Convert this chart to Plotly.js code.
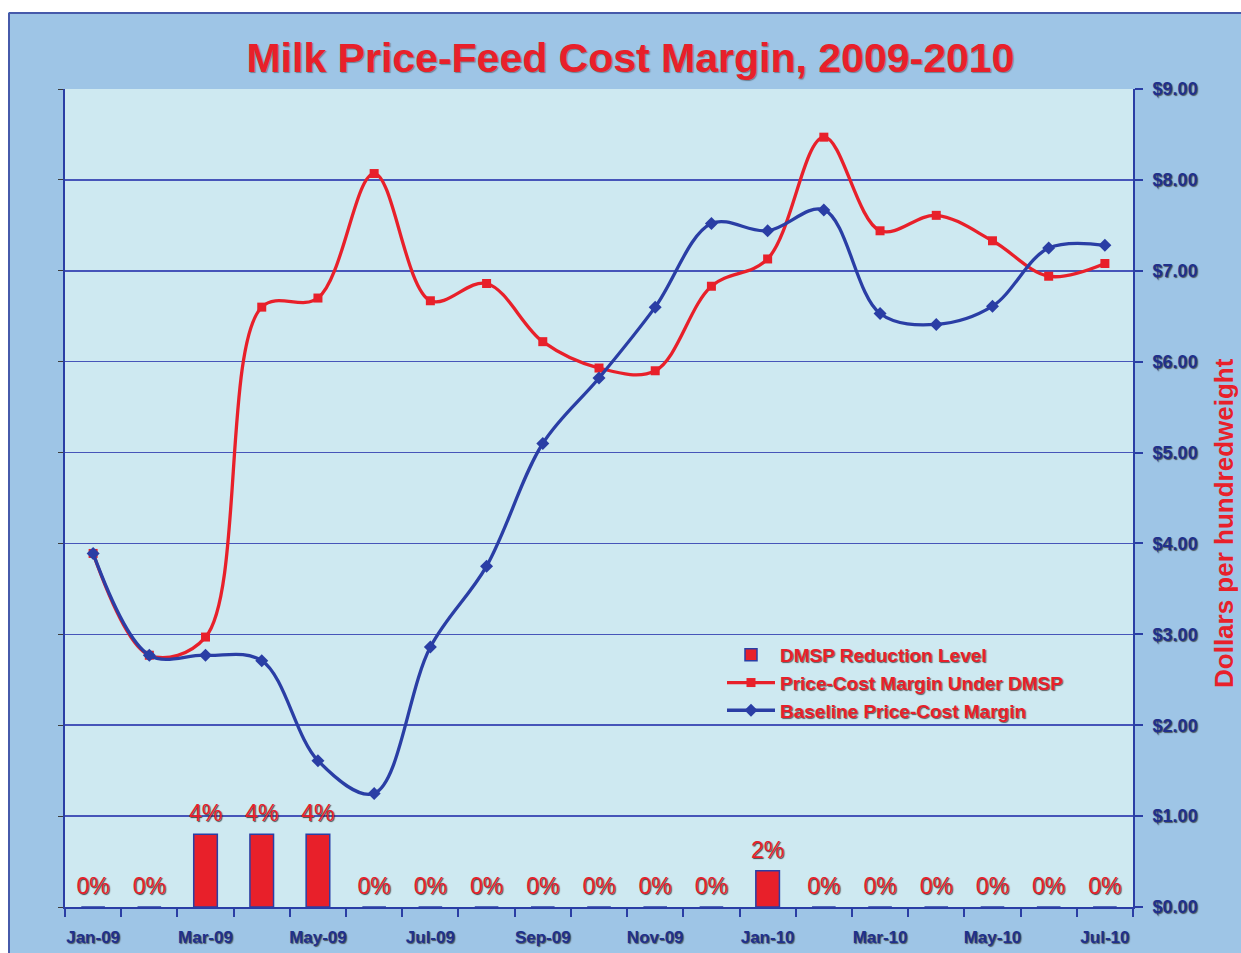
<!DOCTYPE html>
<html>
<head>
<meta charset="utf-8">
<script src="https://cdn.plot.ly/plotly-3.0.1.min.js"></script>
<style>
  html, body { margin: 0; padding: 0; background: #ffffff; }
  #chart { width: 1241px; height: 953px; }
</style>
</head>
<body>
<div id="chart"></div>
<script>
// ---- data ----
const months = ["Jan-09","Feb-09","Mar-09","Apr-09","May-09","Jun-09","Jul-09","Aug-09","Sep-09","Oct-09","Nov-09","Dec-09",
                "Jan-10","Feb-10","Mar-10","Apr-10","May-10","Jun-10","Jul-10"];
const tickLabels = ["Jan-09","","Mar-09","","May-09","","Jul-09","","Sep-09","","Nov-09","",
                    "Jan-10","","Mar-10","","May-10","","Jul-10"];
const dmspReduction = [0,0,0.04,0.04,0.04,0,0,0,0,0,0,0,0.02,0,0,0,0,0,0];
const marginUnderDMSP = [3.89,2.77,2.97,6.60,6.70,8.07,6.67,6.86,6.22,5.93,5.90,6.83,7.13,8.47,7.44,7.61,7.33,6.94,7.08];
const baselineMargin  = [3.89,2.77,2.77,2.71,1.61,1.25,2.86,3.75,5.10,5.82,6.60,7.52,7.44,7.67,6.53,6.41,6.61,7.25,7.28];
const dollarTicks = [0,1,2,3,4,5,6,7,8,9];
const dollarTickText = ["$0.00","$1.00","$2.00","$3.00","$4.00","$5.00","$6.00","$7.00","$8.00","$9.00"];

const RED = "rgb(232,32,42)";
const BLUE = "rgb(42,62,165)";
const DARKBLUE = "rgb(32,48,140)";
const GRID = "rgb(70,85,185)";
const PAPER = "rgb(158,197,230)";
const PLOTBG = "rgb(206,233,241)";
const SHADOW = "1px 1px 1px rgba(40,40,40,0.7)";

// plot-area geometry in pixels (used only for paper-referenced decorations)
const PL = 65, PR = 1133, PT = 89, PB = 907;
const px2x = p => (p - PL) / (PR - PL);
const py2y = p => (PB - p) / (PB - PT);

const traces = [
  {
    type: "bar",
    name: "DMSP Reduction Level",
    x: months,
    y: dmspReduction,
    yaxis: "y",
    marker: { color: RED, line: { color: BLUE, width: 1.5 } },
    width: 0.42,
    hoverinfo: "skip"
  },
  {
    type: "scatter",
    mode: "markers+text",
    name: "DMSP labels",
    showlegend: false,
    x: months,
    y: dmspReduction,
    yaxis: "y",
    text: dmspReduction.map(v => Math.round(v * 100) + "%"),
    textposition: "top center",
    cliponaxis: false,
    marker: { size: 10, opacity: 0 },
    textfont: { family: "Liberation Sans, Arial, sans-serif", size: 23, color: RED, shadow: "1px 1px 1px rgba(30,30,30,0.8)" },
    hoverinfo: "skip"
  },
  {
    type: "scatter",
    mode: "lines+markers",
    name: "Price-Cost Margin Under DMSP",
    x: months,
    y: marginUnderDMSP,
    yaxis: "y2",
    line: { color: RED, width: 3.3, shape: "spline", smoothing: 1 },
    marker: { symbol: "square", size: 9, color: RED }
  },
  {
    type: "scatter",
    mode: "lines+markers",
    name: "Baseline Price-Cost Margin",
    x: months,
    y: baselineMargin,
    yaxis: "y2",
    line: { color: BLUE, width: 3.3, shape: "spline", smoothing: 1 },
    marker: { symbol: "diamond", size: 10, color: BLUE }
  }
];

const layout = {
  width: 1241,
  height: 953,
  paper_bgcolor: PAPER,
  plot_bgcolor: PLOTBG,
  margin: { l: PL, r: 1241 - PR, t: PT, b: 953 - PB },
  showlegend: true,
  title: {
    text: "<b>Milk Price-Feed Cost Margin, 2009-2010</b>",
    font: { family: "Liberation Sans, Arial, sans-serif", size: 41, color: RED, shadow: "1px 1px 1px rgba(60,60,60,0.5)" },
    x: 0.508, xanchor: "center",
    y: 0.94, yanchor: "middle"
  },
  xaxis: {
    type: "category",
    range: [-0.5, 18.5],
    tickvals: months,
    ticktext: tickLabels,
    tickson: "boundaries",
    ticks: "outside",
    ticklen: 8,
    tickwidth: 2,
    tickcolor: BLUE,
    ticklabelstandoff: 14,
    showline: true,
    linecolor: BLUE,
    linewidth: 2,
    showgrid: false,
    zeroline: false,
    tickangle: 0,
    tickfont: { family: "Liberation Sans, Arial, sans-serif", size: 17, color: DARKBLUE, weight: "bold", shadow: SHADOW }
  },
  yaxis: {
    range: [0, 0.45],
    dtick: 0.05,
    showticklabels: false,
    ticks: "outside",
    ticklen: 5,
    tickcolor: "rgb(60,60,60)",
    showline: true,
    linecolor: BLUE,
    linewidth: 2,
    showgrid: false,
    zeroline: false
  },
  yaxis2: {
    overlaying: "y",
    side: "right",
    range: [0, 9],
    tickvals: dollarTicks,
    ticktext: dollarTickText,
    ticks: "outside",
    ticklen: 8,
    tickwidth: 2,
    tickcolor: BLUE,
    ticklabelstandoff: 6,
    showline: true,
    linecolor: BLUE,
    linewidth: 2,
    showgrid: true,
    gridcolor: GRID,
    gridwidth: 1.5,
    zeroline: false,
    tickfont: { family: "Liberation Sans, Arial, sans-serif", size: 18, color: DARKBLUE, weight: "bold", shadow: SHADOW }
  },
  legend: {
    x: px2x(722), xanchor: "left",
    y: py2y(636), yanchor: "top",
    bgcolor: "rgba(0,0,0,0)",
    borderwidth: 0,
    traceorder: "normal",
    tracegroupgap: 0,
    itemwidth: 48,
    font: { family: "Liberation Sans, Arial, sans-serif", size: 19, color: RED, weight: "bold", shadow: SHADOW }
  },
  annotations: [
    {
      xref: "paper", yref: "paper",
      x: px2x(1224), y: py2y(523),
      xanchor: "center", yanchor: "middle",
      textangle: -90,
      showarrow: false,
      text: "<b>Dollars per hundredweight</b>",
      font: { family: "Liberation Sans, Arial, sans-serif", size: 26, color: RED }
    }
  ],
  shapes: [
    // white page outside the chart frame (top and left strips)
    { type: "rect", xref: "paper", yref: "paper", x0: -0.07, x1: 1.12, y0: py2y(12), y1: 1.2,
      fillcolor: "#ffffff", line: { width: 0 }, layer: "below" },
    { type: "rect", xref: "paper", yref: "paper", x0: -0.07, x1: px2x(8), y0: -0.1, y1: 1.2,
      fillcolor: "#ffffff", line: { width: 0 }, layer: "below" },
    // frame border
    { type: "line", xref: "paper", yref: "paper", x0: px2x(9), x1: 1.12, y0: py2y(13), y1: py2y(13),
      line: { color: "rgb(70,90,170)", width: 2 }, layer: "below" },
    { type: "line", xref: "paper", yref: "paper", x0: px2x(9), x1: px2x(9), y0: py2y(13), y1: -0.1,
      line: { color: "rgb(70,90,170)", width: 2 }, layer: "below" }
  ]
};

Plotly.newPlot("chart", traces, layout, { displayModeBar: false, staticPlot: true });
</script>
</body>
</html>
